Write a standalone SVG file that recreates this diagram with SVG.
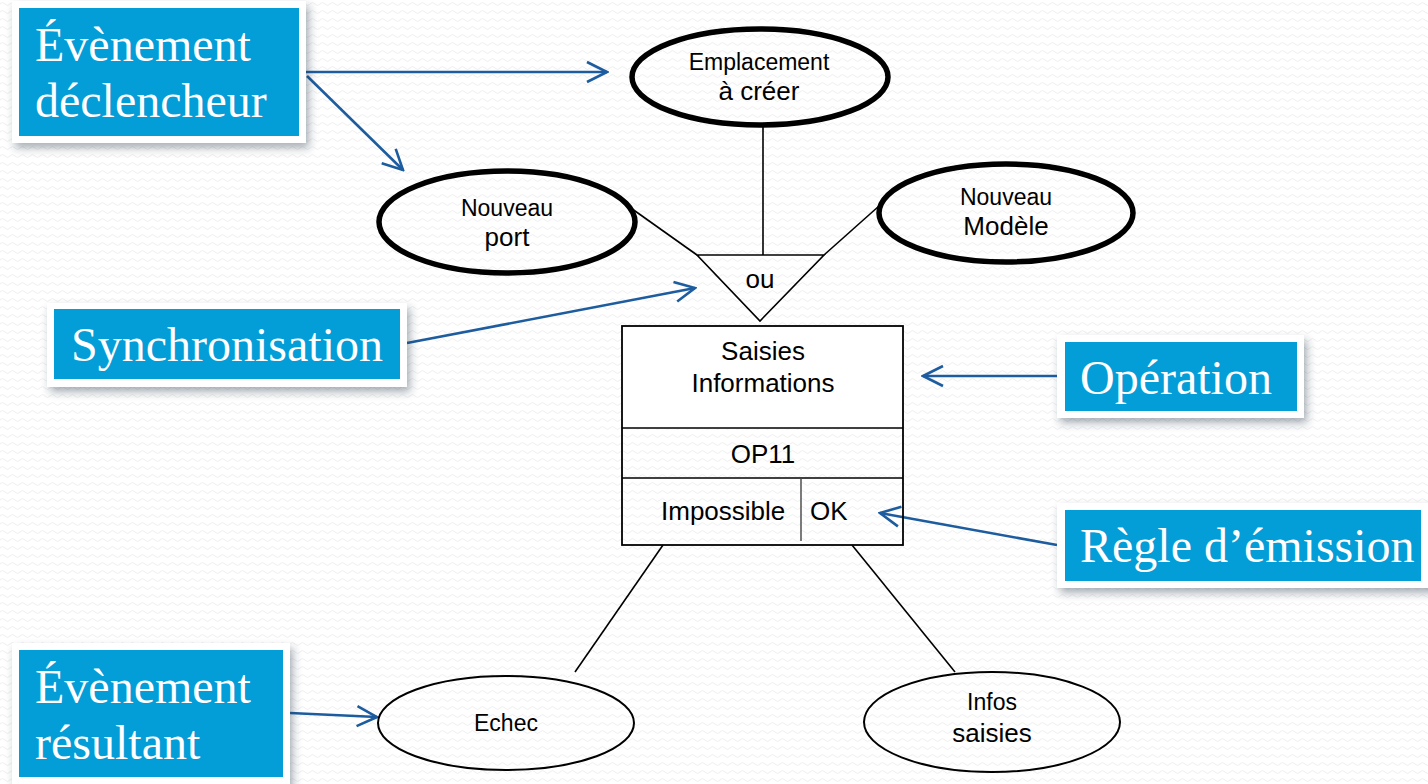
<svg xmlns="http://www.w3.org/2000/svg" width="1428" height="784" viewBox="0 0 1428 784">
<defs>
  <pattern id="bgp" width="10" height="8" patternUnits="userSpaceOnUse">
    <path d="M0,4 q2.5,-3 5,0 t5,0" fill="none" stroke="#eeeeee" stroke-width="1"/>
  </pattern>
  <filter id="sh" x="-10%" y="-10%" width="125%" height="140%">
    <feDropShadow dx="3" dy="5" stdDeviation="4" flood-color="#2a3a4a" flood-opacity="0.4"/>
  </filter>
  <marker id="arr" viewBox="0 0 24 24" refX="22" refY="12" markerWidth="24" markerHeight="24" markerUnits="userSpaceOnUse" orient="auto">
    <path d="M2,2 L22,12 L2,22" fill="none" stroke="#1d5c9e" stroke-width="2.6"/>
  </marker>
  <style>
    .lbl{font-family:"Liberation Serif","Times New Roman",serif;font-size:48px;fill:#ffffff}
    .frame{fill:#ffffff;filter:url(#sh)}
    .blue{fill:#039dd8}
    .t{font-family:"Liberation Sans",Arial,sans-serif;fill:#000;text-anchor:middle}
    .s1{font-size:23px}
    .s2{font-size:26px}
    .thick{fill:none;stroke:#000;stroke-width:5.5}
    .thin{fill:none;stroke:#000;stroke-width:2}
    .ln{fill:none;stroke:#000;stroke-width:1.6}
    .ar{fill:none;stroke:#1d5c9e;stroke-width:2.6;marker-end:url(#arr)}
  </style>
</defs>
<rect width="1428" height="784" fill="#ffffff"/>
<rect width="1428" height="784" fill="url(#bgp)"/>

<g id="connectors">
  <line class="ln" x1="763" y1="124" x2="763" y2="255"/>
  <line class="ln" x1="628" y1="206" x2="697" y2="255"/>
  <line class="ln" x1="879" y1="206" x2="824" y2="255"/>
  <line class="ln" x1="663" y1="545" x2="575" y2="672"/>
  <line class="ln" x1="852" y1="545" x2="955" y2="672"/>
  <line class="ar" x1="306" y1="72" x2="607" y2="72"/>
  <line class="ar" x1="307" y1="76" x2="403" y2="170"/>
  <line class="ar" x1="407" y1="343" x2="695" y2="288"/>
  <line class="ar" x1="1057" y1="376" x2="923" y2="376"/>
  <line class="ar" x1="1057" y1="545" x2="880" y2="513"/>
  <line class="ar" x1="290" y1="713" x2="377" y2="717"/>
</g>

<g id="node-emplacement">
  <ellipse class="thick" cx="760" cy="77" rx="128" ry="48"/>
  <text class="t s1" x="759" y="70">Emplacement</text>
  <text class="t s2" x="759" y="100">à créer</text>
</g>

<g id="node-nouveau-port">
  <ellipse class="thick" cx="507" cy="222" rx="128" ry="51"/>
  <text class="t s1" x="507" y="216">Nouveau</text>
  <text class="t s2" x="507" y="246">port</text>
</g>

<g id="node-nouveau-modele">
  <ellipse class="thick" cx="1006" cy="213" rx="127" ry="49"/>
  <text class="t s1" x="1006" y="205">Nouveau</text>
  <text class="t s2" x="1006" y="235">Modèle</text>
</g>

<g id="node-synchro">
  <path class="ln" d="M697,255 L824,255 L760,321 Z"/>
  <text class="t s2" x="760" y="288">ou</text>
</g>

<g id="node-operation">
  <rect x="622" y="326" width="281" height="102" fill="#ffffff"/>
  <rect x="622" y="326" width="281" height="219" fill="none" stroke="#000" stroke-width="1.8"/>
  <line class="ln" x1="622" y1="428" x2="903" y2="428"/>
  <line class="ln" x1="622" y1="478" x2="903" y2="478"/>
  <line x1="801" y1="478" x2="801" y2="541" stroke="#444" stroke-width="1.4"/>
  <text class="t s2" x="763" y="360">Saisies</text>
  <text class="t s2" x="763" y="392">Informations</text>
  <text class="t s2" x="763" y="463">OP11</text>
  <text class="t s2" x="661" y="520" style="text-anchor:start">Impossible</text>
  <text class="t s2" x="810" y="520" style="text-anchor:start">OK</text>
</g>

<g id="node-echec">
  <ellipse class="thin" cx="506" cy="723" rx="128" ry="47"/>
  <text class="t s1" x="506" y="731">Echec</text>
</g>

<g id="node-infos-saisies">
  <ellipse class="thin" cx="992" cy="722" rx="128" ry="50"/>
  <text class="t s1" x="992" y="710">Infos</text>
  <text class="t s2" x="992" y="742">saisies</text>
</g>

<g id="label-declencheur">
  <rect class="frame" x="12" y="1" width="294" height="142"/>
  <rect class="blue" x="19" y="8" width="280" height="128"/>
  <text class="lbl" x="35" y="61">Évènement</text>
  <text class="lbl" x="35" y="117">déclencheur</text>
</g>

<g id="label-synchronisation">
  <rect class="frame" x="47" y="303" width="360" height="84"/>
  <rect class="blue" x="54" y="309" width="346" height="70"/>
  <text class="lbl" x="71" y="361">Synchronisation</text>
</g>

<g id="label-operation">
  <rect class="frame" x="1057" y="335" width="247" height="83"/>
  <rect class="blue" x="1065" y="342" width="232" height="69"/>
  <text class="lbl" x="1080" y="394">Opération</text>
</g>

<g id="label-regle">
  <rect class="frame" x="1057" y="503" width="380" height="85"/>
  <rect class="blue" x="1065" y="510" width="356" height="71"/>
  <text class="lbl" x="1080" y="562">Règle d’émission</text>
</g>

<g id="label-resultant">
  <rect class="frame" x="12" y="643" width="278" height="150"/>
  <rect class="blue" x="19" y="650" width="264" height="127"/>
  <text class="lbl" x="35" y="703">Évènement</text>
  <text class="lbl" x="35" y="759">résultant</text>
</g>
</svg>
